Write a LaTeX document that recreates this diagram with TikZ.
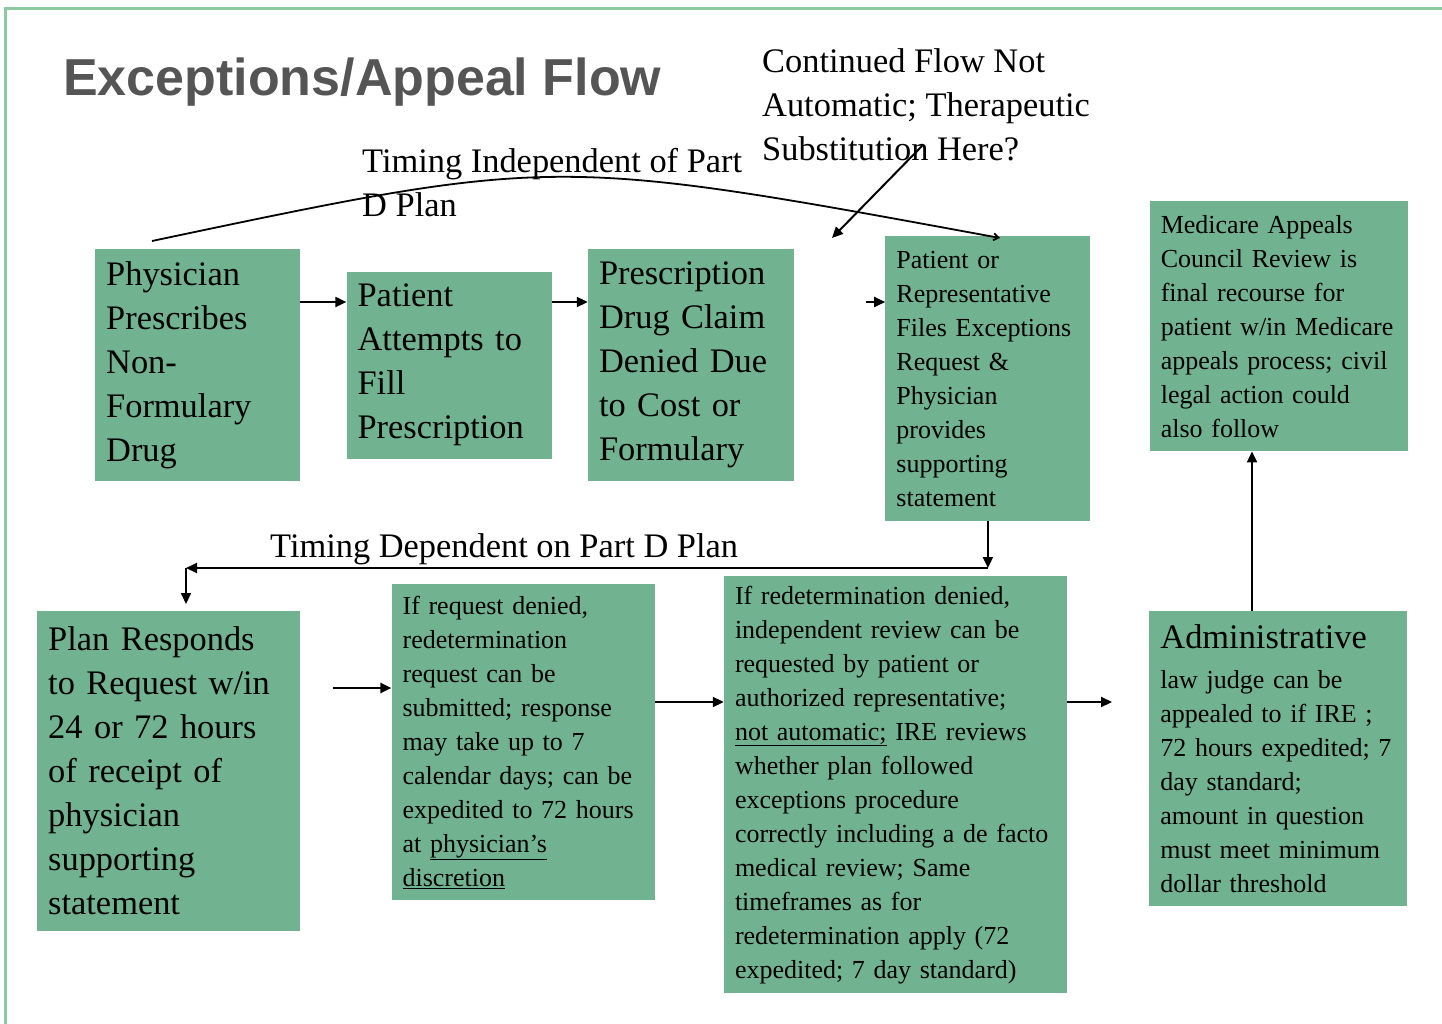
\documentclass[tikz,border=0pt]{standalone}
\usepackage{fontspec}
\setmainfont{Liberation Serif}
\newfontfamily\headfont{Liberation Sans}
\usepackage{tikz}
\usetikzlibrary{arrows.meta,positioning}
\definecolor{boxgreen}{RGB}{113,179,144}
\definecolor{framegreen}{RGB}{140,200,164}
\definecolor{titlegray}{RGB}{85,85,85}
\newcommand{\boxbig}{\fontsize{34.4}{44}\selectfont}
\newcommand{\boxsmall}{\fontsize{26}{34}\selectfont}
\tikzset{
  flowbox/.style={
    rectangle,
    fill=boxgreen,
    align=left,
    inner xsep=11pt,
    inner ysep=6pt
  },
  bigbox/.style={flowbox, font=\boxbig},
  smallbox/.style={flowbox, font=\boxsmall},
  notelabel/.style={font=\boxbig, align=left, inner sep=0pt},
  flowline/.style={-{Triangle[length=11pt,width=10pt]}, line width=2pt},
  arcline/.style={-{Straight Barb[length=5pt,width=7pt]}, line width=1.8pt}
}

\begin{document}
\begin{tikzpicture}[x=1pt, y=-1pt, node distance=46pt]
  \useasboundingbox (0,0) rectangle (1442,1024);
  \draw[framegreen, line width=3pt] (5,1024) -- (5,9) -- (1442,9);

  \node[anchor=base west, inner sep=0pt, text=titlegray,
    font=\headfont\bfseries\fontsize{52}{60}\selectfont] (title) at (63,96) {Exceptions/Appeal Flow};

  \node[bigbox, text width=183pt, minimum height=232pt, anchor=north west] (phys) at (95,249) {Physician\\Prescribes\\Non-\\Formulary\\Drug};
  \node[bigbox, text width=183pt, minimum height=187pt, right=46pt of phys] (patient) {Patient\\Attempts to\\Fill\\Prescription};
  \node[bigbox, text width=184pt, minimum height=232pt, right=36pt of patient] (claim) {Prescription\\Drug Claim\\Denied Due\\to Cost or\\Formulary};
  \node[smallbox, text width=183pt, minimum height=285pt, right=91pt of claim, yshift=-13.5pt] (files) {Patient or\\Representative\\Files Exceptions\\Request \&\\Physician\\provides\\supporting\\statement};
  \node[smallbox, text width=236pt, minimum height=250pt, right=59pt of files, yshift=52.5pt] (appeals) {Medicare Appeals\\Council Review is\\final recourse for\\patient w/in Medicare\\appeals process; civil\\legal action could\\also follow};

  \node[bigbox, text width=241pt, minimum height=320pt, anchor=north west] (plan) at (37,611) {Plan Responds\\to Request w/in\\24 or 72 hours\\of receipt of\\physician\\supporting\\statement};
  \node[smallbox, text width=241pt, minimum height=316pt, right=91pt of plan, yshift=29pt] (redet) {If request denied,\\redetermination\\request can be\\submitted; response\\may take up to 7\\calendar days; can be\\expedited to 72 hours\\at \underline{physician's}\\\underline{discretion}};
  \node[smallbox, text width=321pt, minimum height=417pt, right=69pt of redet, yshift=-42.5pt] (ire) {If redetermination denied,\\independent review can be\\requested by patient or\\authorized representative;\\\underline{not automatic;} IRE reviews\\whether plan followed\\exceptions procedure\\correctly including a de facto\\medical review; Same\\timeframes as for\\redetermination apply (72\\expedited; 7 day standard)};
  \node[smallbox, text width=236pt, minimum height=295pt, right=82pt of ire, yshift=26pt] (alj) {{\boxbig Administrative}\\[6pt]law judge can be\\appealed to if IRE ;\\72 hours expedited; 7\\day standard;\\amount in question\\must meet minimum\\dollar threshold};

  \node[notelabel, anchor=north west] (indep) at (362,148.5) {Timing Independent of Part\\D Plan};
  \node[notelabel, anchor=north west] (subst) at (762,48.5) {Continued Flow Not\\Automatic; Therapeutic\\Substitution Here?};
  \node[notelabel, anchor=base west] (dep) at (270,557) {Timing Dependent on Part D Plan};

  \coordinate (toprow) at (0,302);
  \coordinate (filesfeed) at (866,302);
  \coordinate (arcstart) at (152,241);
  \coordinate (arcend) at (1000,238);
  \coordinate (substfoot) at (922,146);
  \coordinate (substtip) at (832,238);
  \coordinate (depturn) at (186,568);
  \coordinate (planout) at (333,688);
  \coordinate (row2b) at (0,702);
  \coordinate (aljin) at (1112,702);
  \coordinate (aljup) at (1252,611);

  \draw[flowline] (phys.east |- toprow) -- (patient.west |- toprow);
  \draw[flowline] (patient.east |- toprow) -- (claim.west |- toprow);
  \draw[flowline] (filesfeed) -- (files.west |- toprow);
  \draw[arcline] (arcstart) .. controls (555,156) .. (arcend);
  \draw[flowline] (substfoot) -- (substtip);
  \draw[flowline] (files.south) -- (files.south |- depturn);
  \draw[flowline] (files.south |- depturn) -- (depturn);
  \draw[flowline] (depturn) -- ++(0,36);
  \draw[flowline] (planout) -- (redet.west |- planout);
  \draw[flowline] (redet.east |- row2b) -- (ire.west |- row2b);
  \draw[flowline] (ire.east |- row2b) -- (aljin);
  \draw[flowline] (aljup) -- (aljup |- appeals.south);
\end{tikzpicture}
\end{document}
